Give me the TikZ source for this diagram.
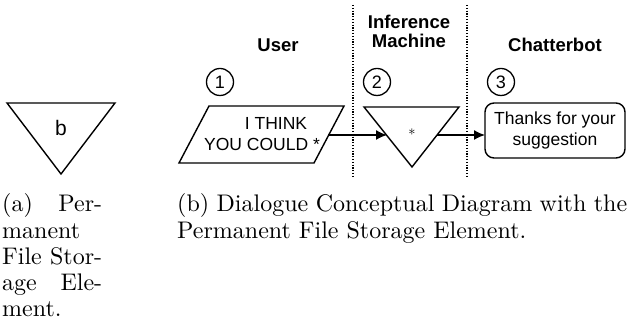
\documentclass[tikz,border=0pt]{standalone}
\usepackage{fontspec}
\setmainfont{lmroman10-regular.otf}
\newfontfamily\arial{Liberation Sans}
\usetikzlibrary{arrows.meta}
\tikzset{
 outline/.style={draw, line width=1.4pt, line join=miter},
 boxtext/.style={font=\arial\fontsize{17.5}{21}\selectfont, align=center, inner sep=0pt},
 head/.style={font=\arial\bfseries\fontsize{18.5}{19}\selectfont, align=center, inner sep=0pt},
 num/.style={circle, draw, line width=1.3pt, minimum size=27pt, inner sep=0pt, font=\arial\fontsize{18}{18}\selectfont},
 captext/.style={font=\fontsize{24}{27}\selectfont, anchor=base west, inner sep=0pt},
 arr/.style={line width=1.4pt, -{Latex[length=11pt,width=10pt]}},
 sepline/.style={line width=1.2pt, dash pattern=on 1.3pt off 1.5pt},
}
\begin{document}
\begin{tikzpicture}[x=1pt,y=-1pt]
\useasboundingbox (0,0) rectangle (633,328);
% (a) permanent file storage element
\draw[outline] (7,103) -- (115,103) -- (61,174) -- cycle;
\node[boxtext, font=\arial\fontsize{21}{21}\selectfont] (b) at (61,128) {b};
% captions (a)
\node[captext] (ca1) at (2,212) {\makebox[100pt][s]{(a) Per-}};
\node[captext] (ca2) at (2,238.5) {manent};
\node[captext] (ca3) at (2,264.5) {\makebox[100pt][s]{File Stor-}};
\node[captext] (ca4) at (2,290.5) {\makebox[100pt][s]{age Ele-}};
\node[captext] (ca5) at (2,316.5) {ment.};
% caption (b)
\node[captext] (cb1) at (177,212) {\makebox[450pt][s]{(b) Dialogue Conceptual Diagram with the}};
\node[captext] (cb2) at (177,238.5) {Permanent File Storage Element.};
% headers
\node[head] (user) at (278,45) {User};
\node[head] (inf) at (409,31) {Inference\\Machine};
\node[head] (chat) at (555,45) {Chatterbot};
% separators
\coordinate (s1t) at (353,5); \coordinate (s1b) at (353,177);
\coordinate (s2t) at (467,5); \coordinate (s2b) at (467,177);
\draw[sepline] (s1t) -- (s1b);
\draw[sepline] (s2t) -- (s2b);
% numbers
\node[num] (n1) at (220,82) {1};
\node[num] (n2) at (377,82) {2};
\node[num] (n3) at (501,82) {3};
% parallelogram
\draw[outline] (179,163) -- (209,106) -- (344,106) -- (314,163) -- cycle;
\node[boxtext] (p) at (262,134) {\hspace*{28pt}I THINK\\YOU COULD *};
% triangle 2
\draw[outline] (364,107) -- (459,107) -- (412,167) -- cycle;
\node[inner sep=0pt, font=\fontsize{14}{14}\selectfont] (star) at (412,132) {$\ast$};
% rounded box
\node[draw, rounded corners=9pt, line width=1.4pt, minimum width=140pt, minimum height=55pt, boxtext] (rr) at (555,130.5) {Thanks for your\\suggestion};
% arrows
\coordinate (a1s) at (328,135); \coordinate (a1e) at (387,135);
\coordinate (a2s) at (437,135); \coordinate (a2e) at (485,135);
\draw[arr] (a1s) -- (a1e);
\draw[arr] (a2s) -- (a2e);
\end{tikzpicture}
\end{document}
